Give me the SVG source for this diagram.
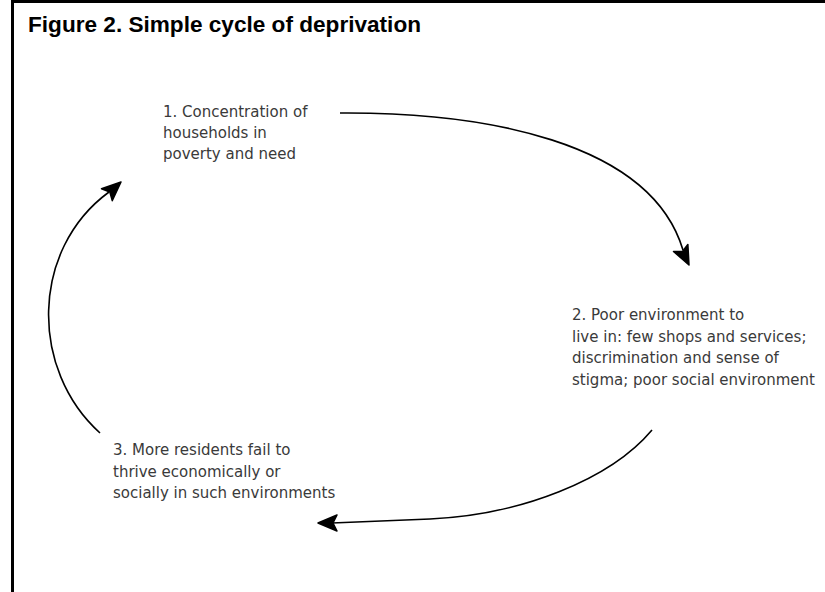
<svg xmlns="http://www.w3.org/2000/svg" width="825" height="592" viewBox="0 0 825 592">
  <style>
    .title { font-family: "Liberation Sans", Arial, sans-serif; font-weight: bold; font-size: 22.6px; fill: #000; }
    .lbl { font-family: "DejaVu Sans", "Liberation Sans", sans-serif; font-size: 15px; fill: #3a3a3a; }
    .conn { fill: none; stroke: #000; stroke-width: 1.6; }
    .head { fill: #000; stroke: #000; stroke-width: 1.5; stroke-linejoin: round; }
  </style>
  <rect width="825" height="592" fill="#fff"/>
  <g id="frame">
    <line x1="12.5" y1="1.5" x2="825" y2="1.5" stroke="#000" stroke-width="3"/>
    <line x1="12.5" y1="0" x2="12.5" y2="592" stroke="#000" stroke-width="3"/>
  </g>
  <text class="title" x="28" y="32">Figure 2. Simple cycle of deprivation</text>
  <g id="connectors">
    <path class="conn" d="M340,113 C480,112 650,140 683,250"/>
    <path class="head" transform="translate(689,265) rotate(64)" d="M0,0 L-19,-8 L-15,0 L-19,8 Z"/>
    <path class="conn" d="M652,430 C610,480 520,515 430,519 L332,523"/>
    <path class="head" transform="translate(318,523) rotate(180)" d="M0,0 L-19,-8 L-15,0 L-19,8 Z"/>
    <path class="conn" d="M100,433 C30,370 30,250 109,192"/>
    <path class="head" transform="translate(121,182) rotate(-42)" d="M0,0 L-19,-8 L-15,0 L-19,8 Z"/>
  </g>
  <g id="node1">
    <text class="lbl" x="163" y="117">1. Concentration of</text>
    <text class="lbl" x="163" y="138">households in</text>
    <text class="lbl" x="163" y="159">poverty and need</text>
  </g>
  <g id="node2">
    <text class="lbl" x="572" y="320">2. Poor environment to</text>
    <text class="lbl" x="572" y="342">live in: few shops and services;</text>
    <text class="lbl" x="572" y="363">discrimination and sense of</text>
    <text class="lbl" x="572" y="385">stigma; poor social environment</text>
  </g>
  <g id="node3">
    <text class="lbl" x="113" y="455">3. More residents fail to</text>
    <text class="lbl" x="113" y="477">thrive economically or</text>
    <text class="lbl" x="113" y="498">socially in such environments</text>
  </g>
</svg>
